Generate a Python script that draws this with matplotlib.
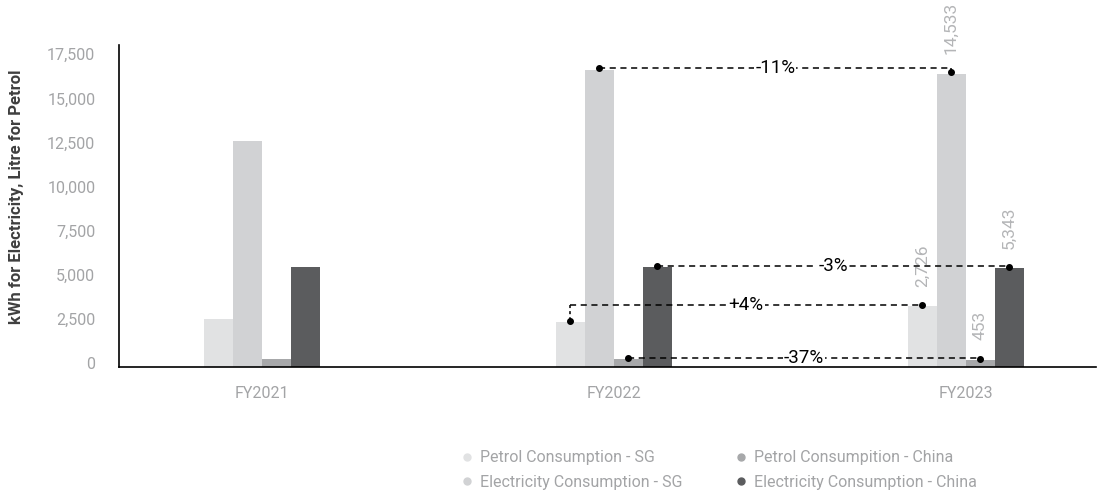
import matplotlib
matplotlib.use("Agg")
import matplotlib.pyplot as plt
import matplotlib.transforms as mtransforms
from matplotlib.lines import Line2D
import numpy as np

plt.rcParams['font.family'] = ['Roboto', 'DejaVu Sans']

years = ["FY2021", "FY2022", "FY2023"]
series_names = ["Petrol Consumption - SG", "Electricity Consumption - SG",
                "Petrol Consumpition - China", "Electricity Consumption - China"]
petrol_sg = [2730, 2540, 3450]
electricity_sg = [12820, 16840, 16630]
petrol_china = [450, 450, 400]
electricity_china = [5650, 5650, 5610]
colors = ["#e1e2e3", "#d1d2d4", "#a7a8aa", "#5b5c5e"]

# FY2023 data labels (as printed on the chart)
fy23_labels = ["2,726", "14,533", "453", "5,343"]

# change annotations: (series index, text)
changes = [(1, "-11%"), (3, "-3%"), (0, "+4%"), (2, "-37%")]

yticks = [0, 2500, 5000, 7500, 10000, 12500, 15000, 17500]

fig = plt.figure(figsize=(10.97, 4.91), dpi=100)
ax = fig.add_axes([119/1097, 1-367/491, (1096-119)/1097, (367-45)/491])

series = [petrol_sg, electricity_sg, petrol_china, electricity_china]
x = np.arange(len(years))
w = 0.0824
offsets = [-1.5*w, -0.5*w, 0.5*w, 1.5*w]
for s, off, c, name in zip(series, offsets, colors, series_names):
    ax.bar(x + off, s, width=w, color=c, label=name, zorder=2)

# data labels on FY2023
for s, off, lab in zip(series, offsets, fy23_labels):
    ax.annotate(lab, (2 + off, s[2]), xytext=(0, 14), textcoords="offset points",
                rotation=90, ha="center", va="bottom", color="#b4b5b7", fontsize=12.5)

# change annotations between FY2022 and FY2023
for idx, txt in changes:
    s = series[idx]
    x1, x2 = 1 + offsets[idx], 2 + offsets[idx]
    y1, y2 = s[1], s[2]
    yl = max(y1, y2) + 80
    ax.plot([x1, x2], [yl, yl], ls=(0, (4, 3)), color="black", lw=1.1, zorder=3)
    ax.plot([x1, x1], [yl, y1], ls=(0, (2, 2)), color="black", lw=1.1, zorder=3)
    ax.plot([x2, x2], [yl, y2], ls=(0, (2, 2)), color="black", lw=1.1, zorder=3)
    ax.plot([x1, x2], [y1 + 80, y2 + 80], 'o', color="black", ms=4, zorder=4)
    ax.text((x1 + x2) / 2, yl, txt, ha="center", va="center", fontsize=13.5,
            color="black", zorder=5,
            bbox=dict(boxstyle="square,pad=0.05", fc="white", ec="none"))

ax.set_xlim(-0.405, 2.37)
ax.set_ylim(0, 18250)
ax.set_yticks(yticks)
ax.set_yticklabels([f"{v:,}" for v in yticks])
ax.set_xticks(x)
ax.set_xticklabels(years)
ax.tick_params(axis="y", length=0, pad=17, labelsize=11.5, labelcolor="#a3a4a6")
ax.tick_params(axis="x", length=0, pad=14, labelsize=11.5, labelcolor="#a3a4a6")
shift = mtransforms.ScaledTranslation(0, 4/100, fig.dpi_scale_trans)
for lab in ax.get_yticklabels():
    lab.set_transform(lab.get_transform() + shift)
for sp in ["top", "right"]:
    ax.spines[sp].set_visible(False)
for sp in ["left", "bottom"]:
    ax.spines[sp].set_linewidth(1.2)
    ax.spines[sp].set_zorder(6)
ax.set_ylabel("kWh for Electricity, Litre for Petrol", fontsize=12,
              fontweight="bold", color="#3f3f3f")
ax.yaxis.set_label_coords((17 - 119) / (1096 - 119), 0.53)
ax.yaxis.label.set_va("center")

handles = [Line2D([0], [0], marker="o", ls="", color=c, ms=5) for c in colors]
leg = fig.legend(handles, series_names, loc="upper left",
                 bbox_to_anchor=(445/1097, 1-436/491), ncol=2, frameon=False,
                 fontsize=11.5, labelcolor="#a3a4a6", handletextpad=0.3,
                 columnspacing=3.15, labelspacing=0.6, handlelength=1.0)

fig.savefig("out.png", dpi=100)
